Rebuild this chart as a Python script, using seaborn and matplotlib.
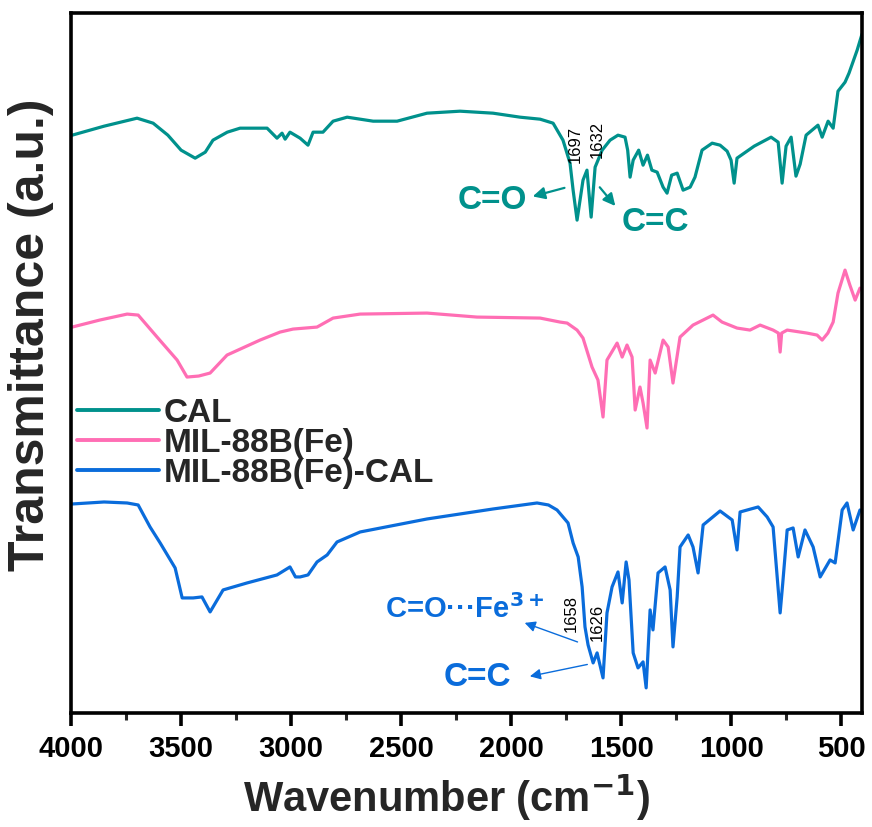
import numpy as np
import pandas as pd
import matplotlib
matplotlib.use("Agg")
import matplotlib.pyplot as plt
from matplotlib.ticker import MultipleLocator
import seaborn as sns

# ---------------- data ----------------
cal_wn = [3995, 3850, 3700, 3627, 3560, 3500, 3436, 3390, 3355, 3290, 3232, 3109, 3064, 3041,
          3027, 3005, 2959, 2923, 2900, 2855, 2809, 2745, 2627, 2518, 2382, 2232, 2082, 1959,
          1868, 1809, 1764, 1732, 1718, 1700, 1673, 1655, 1645, 1636, 1618, 1586, 1550, 1514,
          1482, 1470, 1459, 1445, 1420, 1400, 1380, 1360, 1336, 1309, 1291, 1270, 1245, 1218,
          1186, 1164, 1132, 1086, 1050, 1018, 1000, 986, 973, 895, 818, 786, 768, 750, 727,
          705, 686, 659, 605, 586, 559, 536, 514, 482, 464, 427, 405]
cal_t = [578, 587, 595, 590, 578, 563, 555, 561, 573, 581, 585, 585, 575, 580,
         574, 581, 575, 568, 581, 581, 592, 596, 592, 592, 600, 602, 600, 596,
         594, 590, 573, 550, 523, 493, 533, 543, 518, 496, 546, 563, 573, 578,
         576, 563, 536, 553, 563, 548, 558, 543, 541, 526, 520, 538, 540, 523,
         526, 536, 563, 570, 568, 562, 553, 530, 555, 567, 576, 571, 530, 567, 576,
         537, 549, 578, 588, 576, 592, 585, 622, 631, 640, 663, 679]

mil_wn = [3995, 3870, 3745, 3695, 3609, 3518, 3473, 3420, 3368, 3291, 3141, 3050, 2991, 2882,
          2809, 2686, 2382, 2155, 1868, 1777, 1745, 1700, 1673, 1632, 1605, 1582, 1564, 1518,
          1495, 1473, 1450, 1436, 1414, 1400, 1382, 1368, 1345, 1309, 1286, 1264, 1232, 1173,
          1082, 1041, 973, 914, 868, 809, 785, 777, 770, 745, 655, 609, 586, 560, 536, 514,
          482, 460, 436, 414]
mil_t = [386, 393, 399, 398, 376, 353, 336, 337, 340, 358, 373, 381, 384, 386,
         395, 399, 400, 396, 395, 391, 390, 383, 375, 346, 333, 296, 353, 370,
         356, 368, 356, 303, 326, 310, 285, 353, 340, 373, 366, 330, 376, 388,
         398, 391, 385, 383, 388, 383, 380, 361, 380, 383, 380, 378, 373, 380, 391, 420,
         443, 428, 413, 425]

milcal_wn = [3995, 3850, 3745, 3695, 3641, 3595, 3527, 3495, 3445, 3405, 3368, 3309, 3200, 3064,
             3005, 2980, 2959, 2923, 2882, 2836, 2791, 2686, 2382, 2082, 1882, 1830, 1791, 1741,
             1718, 1695, 1677, 1664, 1650, 1627, 1609, 1582, 1564, 1541, 1514, 1495, 1477, 1464,
             1445, 1423, 1400, 1386, 1368, 1355, 1332, 1300, 1277, 1264, 1245, 1232, 1195, 1173,
             1150, 1127, 1050, 995, 973, 959, 877, 836, 809, 777, 765, 745, 718, 695, 664, 627,
             595, 550, 527, 495, 473, 445, 414]
milcal_t = [209, 211, 210, 208, 186, 170, 145, 115, 115, 116, 101, 123, 130, 138,
            146, 136, 136, 138, 151, 158, 171, 181, 194, 204, 210, 208, 203, 190,
            170, 156, 126, 86, 68, 50, 60, 35, 100, 126, 141, 110, 151, 133,
            60, 45, 51, 25, 103, 83, 140, 146, 123, 66, 116, 166, 178, 166,
            140, 188, 202, 193, 163, 201, 206, 196, 186, 100, 130, 183, 185, 156, 183, 166,
            136, 153, 150, 203, 210, 183, 203]

series_names = ["CAL", "MIL-88B(Fe)", "MIL-88B(Fe)-CAL"]
series_colors = ["#00918C", "#FF6EB4", "#0A6CDB"]
x_ticks = [4000, 3500, 3000, 2500, 2000, 1500, 1000, 500]

# ---------------- build long-form table ----------------
frames = []
for name, wn, t in zip(series_names, [cal_wn, mil_wn, milcal_wn], [cal_t, mil_t, milcal_t]):
    frames.append(pd.DataFrame({"Wavenumber": wn, "Transmittance": t, "Sample": name}))
df = pd.concat(frames, ignore_index=True)

sns.set_style("ticks")
plt.rcParams["font.family"] = ["Liberation Sans", "DejaVu Sans"]
plt.rcParams["font.weight"] = "bold"
plt.rcParams["mathtext.default"] = "bf"

fig = plt.figure(figsize=(8.72, 8.27), dpi=100)
ax = fig.add_axes([0.0815, 0.138, 0.907, 0.846])

sns.lineplot(data=df, x="Wavenumber", y="Transmittance", hue="Sample",
             hue_order=series_names, palette=series_colors, estimator=None,
             sort=True, linewidth=2.3, ax=ax)

ax.set_xlim(4000, 405)
ax.set_ylim(0, 700)
ax.set_xticks(x_ticks)
ax.set_xticklabels([str(v) for v in x_ticks])
ax.xaxis.set_minor_locator(MultipleLocator(250))
ax.set_yticks([])

for s in ax.spines.values():
    s.set_visible(True)
    s.set_linewidth(2.6)
    s.set_color("black")

ax.tick_params(axis="x", which="major", direction="out", length=9, width=2.6,
               labelsize=21, pad=7, colors="black")
ax.tick_params(axis="x", which="minor", direction="out", length=5, width=2.2)
for lab in ax.get_xticklabels():
    lab.set_fontweight("bold")

ax.set_xlabel("Wavenumber (cm$^{\\mathbf{-1}}$)", fontsize=30, fontweight="bold")
ax.xaxis.set_label_coords(0.475, -0.085)
ax.set_ylabel("Transmittance (a.u.)", fontsize=36, fontweight="bold")
ax.yaxis.set_label_coords(-0.021, 0.54)

handles, labels = ax.get_legend_handles_labels()
leg = ax.legend(handles, labels, loc="center left", bbox_to_anchor=(0.008, 0.385),
                frameon=False, handlelength=2.45, handletextpad=0.15,
                labelspacing=-0.03, borderpad=0, borderaxespad=0,
                prop={"weight": "bold", "size": 24})
for line in leg.get_lines():
    line.set_linewidth(2.8)

teal, blue = series_colors[0], series_colors[2]
# CAL annotations
ax.text(1709, 569, "1697", rotation=90, ha="center", va="center", fontsize=12,
        fontweight="normal", color="black")
ax.text(1609, 574, "1632", rotation=90, ha="center", va="center", fontsize=12,
        fontweight="normal", color="black")
ax.text(2086, 513, "C=O", ha="center", va="center", fontsize=24, fontweight="bold", color=teal)
ax.annotate("", xy=(1914, 516), xytext=(1745, 526),
            arrowprops=dict(arrowstyle="-|>", color=teal, lw=1.6, mutation_scale=18))
ax.text(1345, 491, "C=C", ha="center", va="center", fontsize=24, fontweight="bold", color=teal)
ax.annotate("", xy=(1518, 505), xytext=(1605, 528),
            arrowprops=dict(arrowstyle="-|>", color=teal, lw=1.6, mutation_scale=18))

# MIL-88B(Fe)-CAL annotations
ax.text(1727, 99, "1658", rotation=90, ha="center", va="center", fontsize=12,
        fontweight="normal", color="black")
ax.text(1609, 90, "1626", rotation=90, ha="center", va="center", fontsize=12,
        fontweight="normal", color="black")
ax.text(2209, 104, "C=O\u00b7\u00b7\u00b7Fe$^{3+}$", ha="center", va="center", fontsize=21,
        fontweight="bold", color=blue)
ax.annotate("", xy=(1950, 91), xytext=(1686, 70),
            arrowprops=dict(arrowstyle="-|>", color=blue, lw=1.0, mutation_scale=16))
ax.text(2155, 35, "C=C", ha="center", va="center", fontsize=24, fontweight="bold", color=blue)
ax.annotate("", xy=(1927, 36), xytext=(1641, 49),
            arrowprops=dict(arrowstyle="-|>", color=blue, lw=1.0, mutation_scale=16))

fig.savefig("out.png", dpi=100)
